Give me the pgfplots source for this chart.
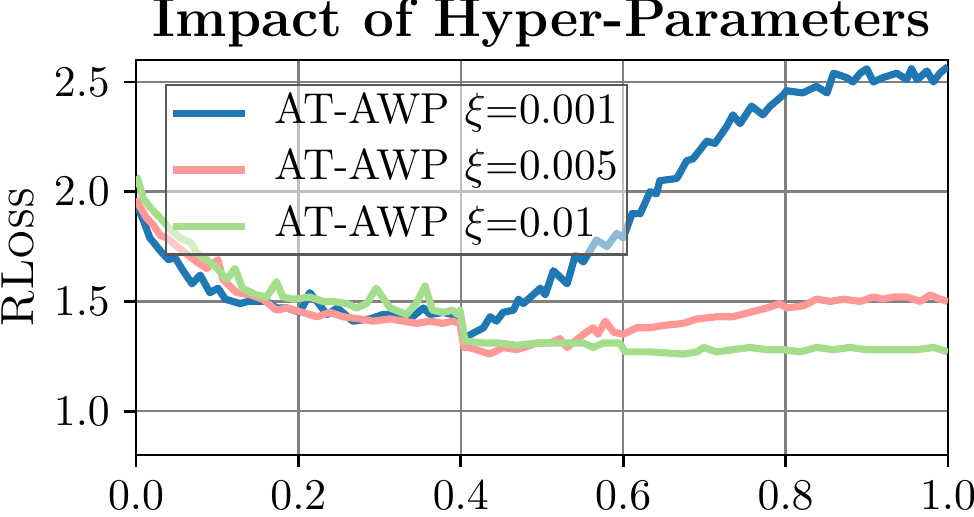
\documentclass[border=0pt]{standalone}
\usepackage{pgfplots}
\pgfplotsset{compat=1.18}
\definecolor{cblue}{RGB}{31,119,180}
\definecolor{cpink}{RGB}{255,152,150}
\definecolor{cgreen}{RGB}{164,222,140}
\begin{document}
\begin{tikzpicture}
\begin{axis}[
  scale only axis,
  width=203pt, height=98.75pt,
  xmin=0, xmax=1, ymin=0.8, ymax=2.6,
  xtick={0,0.2,0.4,0.6,0.8,1.0},
  ytick={1.0,1.5,2.0,2.5},
  xticklabel style={/pgf/number format/fixed,/pgf/number format/precision=1,/pgf/number format/fixed zerofill},
  yticklabel style={/pgf/number format/fixed,/pgf/number format/precision=1,/pgf/number format/fixed zerofill},
  ticklabel style={font=\fontsize{10.7}{12}\selectfont},
  xtick pos=left, ytick pos=left,
  tick align=outside, major tick length=3pt,
  tick style={black, line width=0.7pt},
  axis line style={line width=0.7pt},
  grid=major,
  grid style={gray, line width=0.6pt},
  title={\fontsize{13.7}{15}\selectfont\bfseries Impact of Hyper-Parameters},
  title style={at={(0.5,1)}, anchor=base, yshift=-0.25pt},
  ylabel={\fontsize{11.6}{14}\selectfont \textsc{RLoss}},
  ylabel style={at={(axis description cs:-0.108,0.5)}, anchor=south, rotate=0},
  legend style={at={(0.0357,0.939)}, anchor=north west,
    fill=white, fill opacity=0.5, text opacity=1, draw=black!65, draw opacity=1, line width=0.6pt,
    inner xsep=0.75pt, inner ysep=0pt, row sep=0pt,
    font=\fontsize{10.8}{13}\selectfont,
    nodes={inner xsep=1.5pt, inner ysep=1.55pt, text height=8pt, text depth=3pt},
    /tikz/every odd column/.append style={column sep=5pt}},
  legend cell align=left,
  legend image code/.code={\draw[#1, line width=1.8pt] (0pt,0pt) -- (18pt,0pt);},
  every axis plot/.append style={line width=1.8pt, line join=round},
]
\addplot[cblue] coordinates {
(0.000,1.95)(0.002,1.93)(0.009,1.87)(0.017,1.79)(0.030,1.73)(0.040,1.69)(0.048,1.70)(0.058,1.64)
(0.069,1.58)(0.079,1.62)(0.091,1.54)(0.101,1.56)(0.110,1.51)(0.128,1.49)(0.138,1.50)(0.149,1.50)
(0.161,1.50)(0.173,1.47)(0.186,1.47)(0.202,1.45)(0.214,1.54)(0.223,1.50)(0.235,1.44)(0.248,1.47)
(0.267,1.41)(0.288,1.42)(0.304,1.44)(0.321,1.44)(0.334,1.41)(0.354,1.47)(0.362,1.44)(0.378,1.45)
(0.390,1.44)(0.399,1.43)(0.404,1.345)(0.410,1.345)(0.428,1.38)(0.436,1.43)(0.444,1.41)(0.452,1.45)
(0.465,1.46)(0.471,1.51)(0.477,1.49)(0.498,1.56)(0.504,1.53)(0.514,1.64)(0.531,1.58)(0.541,1.71)
(0.551,1.68)(0.567,1.78)(0.580,1.75)(0.592,1.81)(0.600,1.79)(0.611,1.90)(0.621,1.90)(0.633,2.00)
(0.641,1.99)(0.645,2.05)(0.666,2.06)(0.678,2.14)(0.686,2.15)(0.703,2.23)(0.713,2.22)(0.728,2.30)
(0.735,2.35)(0.744,2.31)(0.758,2.39)(0.772,2.35)(0.781,2.39)(0.797,2.44)(0.801,2.46)(0.821,2.45)
(0.838,2.48)(0.851,2.45)(0.859,2.54)(0.875,2.52)(0.883,2.50)(0.892,2.54)(0.900,2.56)(0.908,2.50)
(0.920,2.52)(0.937,2.54)(0.949,2.51)(0.955,2.56)(0.962,2.51)(0.974,2.55)(0.982,2.50)(0.990,2.54)
(1.000,2.57)};
\addlegendentry{AT-AWP $\xi$=0.001}
\addplot[cpink] coordinates {
(0.000,1.97)(0.002,1.95)(0.013,1.88)(0.021,1.85)(0.030,1.80)(0.038,1.79)(0.054,1.74)(0.075,1.68)
(0.087,1.65)(0.101,1.69)(0.107,1.60)(0.124,1.54)(0.140,1.53)(0.156,1.51)(0.173,1.46)(0.186,1.47)
(0.205,1.45)(0.223,1.43)(0.239,1.45)(0.255,1.43)(0.276,1.42)(0.292,1.41)(0.313,1.42)(0.329,1.41)
(0.346,1.40)(0.362,1.41)(0.378,1.40)(0.390,1.41)(0.399,1.40)(0.404,1.29)(0.410,1.29)(0.436,1.26)
(0.452,1.29)(0.469,1.28)(0.494,1.31)(0.510,1.31)(0.522,1.33)(0.531,1.29)(0.551,1.35)(0.563,1.38)
(0.569,1.35)(0.578,1.41)(0.588,1.36)(0.600,1.35)(0.617,1.38)(0.633,1.38)(0.649,1.39)(0.674,1.40)
(0.691,1.42)(0.715,1.43)(0.735,1.43)(0.756,1.45)(0.777,1.47)(0.793,1.49)(0.801,1.47)(0.822,1.48)
(0.838,1.51)(0.855,1.50)(0.871,1.51)(0.892,1.50)(0.908,1.52)(0.920,1.51)(0.933,1.52)(0.949,1.52)
(0.966,1.50)(0.978,1.53)(0.990,1.51)(1.000,1.50)};
\addlegendentry{AT-AWP $\xi$=0.005}
\addplot[cgreen] coordinates {
(0.000,2.07)(0.002,2.06)(0.009,1.97)(0.017,1.93)(0.030,1.88)(0.042,1.83)(0.054,1.79)(0.067,1.77)
(0.075,1.72)(0.087,1.69)(0.100,1.65)(0.112,1.60)(0.122,1.65)(0.131,1.56)(0.148,1.53)(0.161,1.52)
(0.173,1.59)(0.181,1.52)(0.194,1.51)(0.214,1.52)(0.230,1.50)(0.242,1.50)(0.260,1.49)(0.271,1.47)
(0.284,1.49)(0.296,1.56)(0.313,1.47)(0.333,1.44)(0.345,1.49)(0.356,1.57)(0.365,1.46)(0.378,1.45)
(0.390,1.46)(0.396,1.44)(0.399,1.46)(0.405,1.32)(0.428,1.31)(0.448,1.31)(0.469,1.30)(0.494,1.31)
(0.510,1.31)(0.534,1.31)(0.551,1.31)(0.563,1.29)(0.575,1.31)(0.596,1.31)(0.602,1.27)(0.633,1.27)
(0.674,1.26)(0.691,1.27)(0.699,1.29)(0.715,1.27)(0.735,1.28)(0.756,1.29)(0.777,1.28)(0.797,1.28)
(0.818,1.27)(0.838,1.29)(0.859,1.28)(0.879,1.29)(0.900,1.28)(0.920,1.28)(0.941,1.28)(0.962,1.28)
(0.982,1.29)(1.000,1.27)};
\addlegendentry{AT-AWP $\xi$=0.01}
\coordinate (sw) at (rel axis cs:0,0);
\coordinate (ne) at (rel axis cs:1,1);
\end{axis}
\pgfresetboundingbox
\path[use as bounding box] ([shift={(-34pt,-15.25pt)}]sw) rectangle ([shift={(6.5pt,15pt)}]ne);
\end{tikzpicture}
\end{document}
